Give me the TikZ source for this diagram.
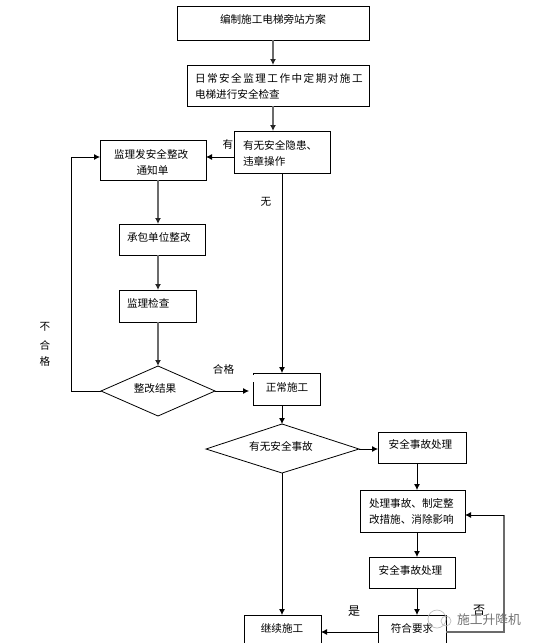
\documentclass[tikz,border=0pt]{standalone}
\usepackage{fontspec}
\setmainfont{Noto Sans CJK SC}
\newfontfamily\cjkwide[LetterSpace=14]{Noto Sans CJK SC}
\usetikzlibrary{arrows.meta,calc}
\definecolor{thickgray}{gray}{0.42}
\tikzset{
  x=1pt,y=-1pt,
  flowbox/.style={draw=black,line width=0.9pt,fill=white,inner sep=0pt,outer sep=0pt},
  decision/.style={draw=black,line width=0.8pt,fill=white},
  txt/.style={inner sep=0pt,outer sep=0pt,font=\fontsize{10.6}{12}\selectfont,text=black},
  bigtxt/.style={txt,font=\fontsize{12}{14}\selectfont},
  lefttxt/.style={txt,anchor=west},
  flow/.style={draw=black,line width=0.8pt,-{Latex[length=6pt,width=6pt]}},
  heavyflow/.style={draw=thickgray,line width=1.6pt,-{Latex[length=6pt,width=6pt,color=black!85]}}
}
\begin{document}
\begin{tikzpicture}
\useasboundingbox (0,0) rectangle (537,643);
\clip (0,0) rectangle (537,643);
% boxes
\node[flowbox,minimum width=192pt,minimum height=34pt] (plan) at (273,23) {};
\node[flowbox,minimum width=182pt,minimum height=41pt] (routine) at (278,85.5) {};
\node[flowbox,minimum width=96pt,minimum height=42pt] (hazard) at (282,152) {};
\node[flowbox,minimum width=106pt,minimum height=40pt] (notice) at (153,160) {};
\node[flowbox,minimum width=86pt,minimum height=31pt] (rectify) at (162,239.5) {};
\node[flowbox,minimum width=77pt,minimum height=32pt] (inspect) at (157.5,306) {};
\node[flowbox,minimum width=67pt,minimum height=32pt] (normal) at (286.5,389) {};
\node[flowbox,minimum width=88pt,minimum height=31pt] (accident) at (422,447.5) {};
\node[flowbox,minimum width=105pt,minimum height=42pt] (handle) at (412.5,511) {};
\node[flowbox,minimum width=86pt,minimum height=31pt] (accident2) at (412,572.5) {};
\node[flowbox,minimum width=68pt,minimum height=40pt] (meet) at (412,635) {};
\node[flowbox,minimum width=77pt,minimum height=40pt] (goon) at (282.5,635) {};
% decisions
\draw[decision] (158,366) coordinate (rtop) -- (215,391) coordinate (rright) -- (158,416) -- (101,391) coordinate (rleft) -- cycle;
\draw[decision] (282,424) coordinate (atop) -- (359,449) coordinate (aright) -- (282,473) coordinate (abot) -- (206,449) -- cycle;
% gap at the upper left of the normal-work box
\draw[white,line width=1.2pt] (253,375) -- (253,382);
% connectors
\draw[heavyflow] (plan.south) -- (plan.south |- routine.north);
\draw[heavyflow] (plan.south |- routine.south) -- (plan.south |- hazard.north);
\draw[flow] ([yshift=-5pt]hazard.west) -- ([yshift=-5pt]hazard.west -| notice.east);
\draw[flow] (hazard.south) -- (hazard.south |- normal.north);
\draw[heavyflow] (rtop |- notice.south) -- (rtop |- rectify.north);
\draw[heavyflow] (rtop |- rectify.south) -- (rtop |- inspect.north);
\draw[heavyflow] (rtop |- inspect.south) -- (rtop);
\draw[flow] (rleft) -- (71.5,391) -- (71.5,157) -- (notice.west |- 0,157);
\draw[flow] (rright) -- (249,391);
\draw[flow] (hazard.south |- normal.south) -- (atop);
\draw[flow] (aright) -- (aright -| accident.west);
\draw[flow] (417,463) -- (417,490);
\draw[flow] (abot) -- (abot |- goon.north);
\draw[flow] (417,532) -- (417,557);
\draw[flow] (417,589) -- (417,615);
\draw[flow] (meet.west |- 0,632) -- (goon.east |- 0,632);
\draw[draw=black,line width=0.8pt] (meet.east |- 0,638) -- (meet.east |- 0,632);
\draw[draw=thickgray,line width=1.2pt] (meet.east |- 0,632) -- (504,632) -- (504,515);
\draw[flow] (504,515) -- (handle.east |- 0,515);
% box texts
\node[txt] (t1) at (273,19) {编制施工电梯旁站方案};
\node[lefttxt] (t2a) at (195,78) {\cjkwide 日常安全监理工作中定期对施工};
\node[lefttxt] (t2b) at (195,94) {电梯进行安全检查};
\node[lefttxt] (t3a) at (243,145) {有无安全隐患、};
\node[lefttxt] (t3b) at (243,161) {违章操作};
\node[lefttxt] (t4a) at (114,154) {监理发安全整改};
\node[txt] (t4b) at (152.5,170) {通知单};
\node[lefttxt] (t5) at (127,237) {承包单位整改};
\node[lefttxt] (t6) at (127,303) {监理检查};
\node[txt] (t7) at (155,388) {整改结果};
\node[txt] (t8) at (287,387) {正常施工};
\node[txt] (t9) at (281,446) {有无安全事故};
\node[txt] (t10) at (420.5,444) {安全事故处理};
\node[lefttxt] (t11a) at (369,503) {处理事故、制定整};
\node[lefttxt] (t11b) at (369,519) {改措施、消除影响};
\node[txt] (t12) at (410.5,570) {安全事故处理};
\node[txt] (t13) at (412,628) {符合要求};
\node[txt] (t14) at (282,628) {继续施工};
% connector labels
\node[txt] (l1) at (228,144) {有};
\node[txt] (l2) at (266,202) {无};
\node[txt] (l3) at (45,327) {不};
\node[txt] (l4) at (45,345) {合};
\node[txt] (l5) at (45,361) {格};
\node[txt] (l6) at (223.5,369) {合格};
\node[bigtxt] (l7) at (354,611) {是};
\node[bigtxt] (l8) at (479,610) {否};
% watermark
\draw[black!25,line width=0.7pt] (437,619) circle (9pt);
\draw[black!25,line width=0.7pt] (446,621) circle (5pt);
\node[txt,font=\fontsize{12.8}{14}\selectfont,text=black!55] (wm) at (489,619.5) {施工升降机};
\end{tikzpicture}
\end{document}
